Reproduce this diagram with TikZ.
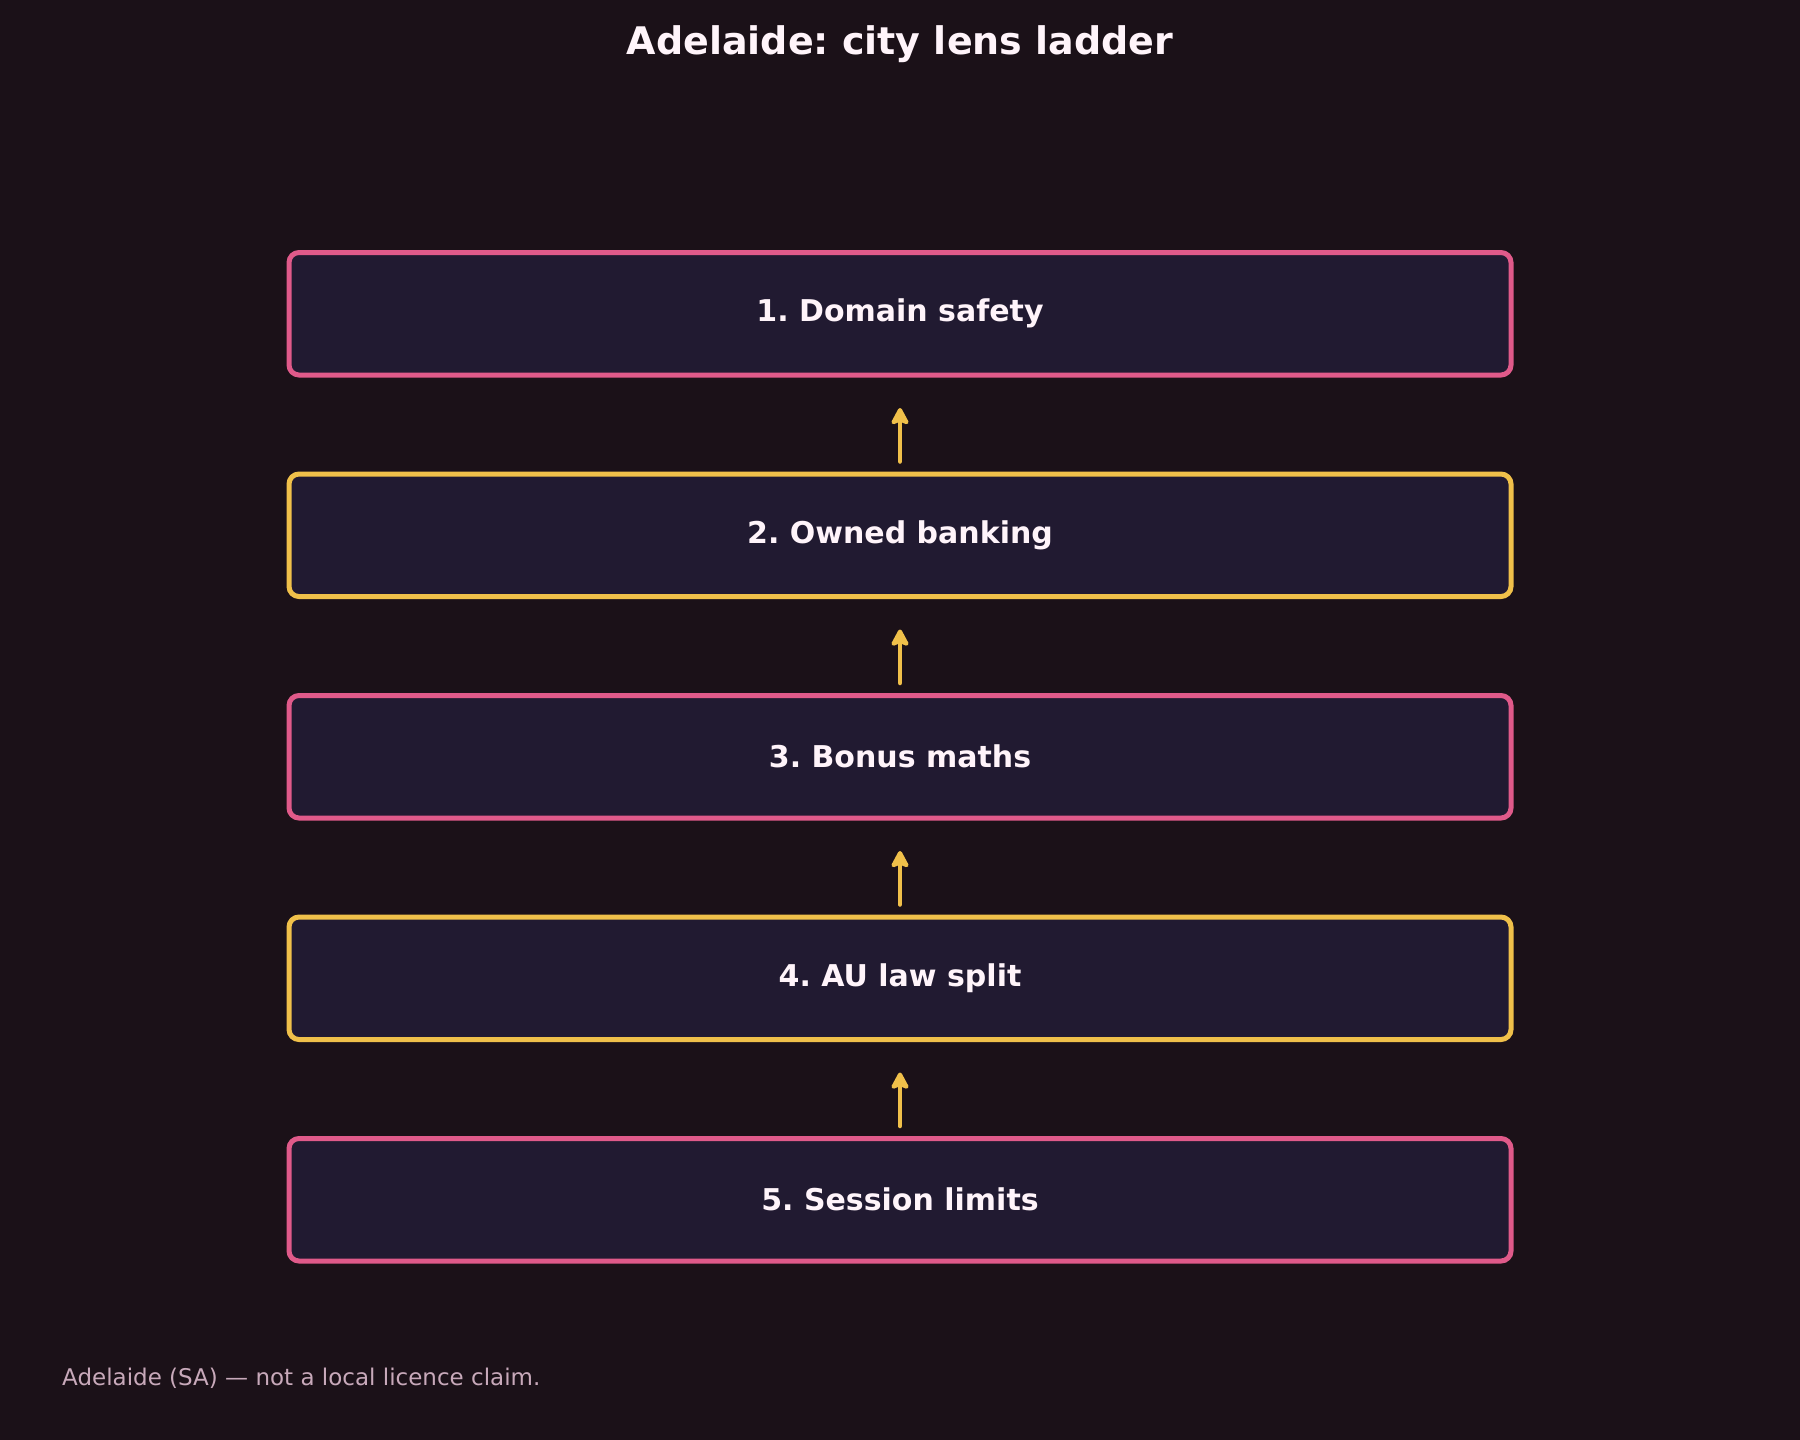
\documentclass[tikz,border=0pt]{standalone}
\usepackage{fontspec}
\setmainfont{DejaVu Sans}
\frenchspacing
\usetikzlibrary{positioning,arrows.meta}

\definecolor{bgdark}{HTML}{1B1118}
\definecolor{rungfill}{HTML}{211A31}
\definecolor{rungpink}{HTML}{E05A8A}
\definecolor{runggold}{HTML}{F0C04A}
\definecolor{inkwhite}{HTML}{FFF4FA}
\definecolor{notegrey}{HTML}{C8A9BA}

\tikzset{
  rung/.style={draw, line width=5pt, fill=rungfill, rounded corners=10pt,
    minimum width=1222pt, minimum height=122.5pt, inner sep=0pt,
    text=inkwhite, font=\fontsize{30}{36}\selectfont\bfseries},
  pinkrung/.style={rung, draw=rungpink},
  goldrung/.style={rung, draw=runggold},
  climb/.style={draw=runggold, line width=4.5pt, line cap=round,
    -{Stealth[length=20pt,width=21pt,inset=4pt,line join=round]}, shorten <=10pt, shorten >=30.5pt}
}

\begin{document}
\begin{tikzpicture}[x=1pt,y=-1pt]
    % Background
    \fill [bgdark] (0, 0) rectangle (1800, 1440);
    \useasboundingbox (0, 0) rectangle (1800, 1440);

    % Title
    \node [text=inkwhite, font=\fontsize{38}{46}\selectfont\bfseries] (title) at (900, 44) {Adelaide: city lens ladder};

    % Ladder rungs
    \node [pinkrung] (domain) at (900, 313.75) {1. Domain safety};
    \node [goldrung] (banking) at (900, 535.25) {2. Owned banking};
    \node [pinkrung] (bonus) at (900, 756.75) {3. Bonus maths};
    \node [goldrung] (law) at (900, 978.25) {4. AU law split};
    \node [pinkrung] (session) at (900, 1199.75) {5. Session limits};

    % Steps up
    \draw [climb] (banking.north) -- (domain.south);
    \draw [climb] (bonus.north) -- (banking.south);
    \draw [climb] (law.north) -- (bonus.south);
    \draw [climb] (session.north) -- (law.south);

    % Footnote
    \node [anchor=west, inner sep=0pt, text=notegrey, font=\fontsize{23}{27}\selectfont] (note) at (62, 1378) {Adelaide (SA) — not a local licence claim.};
\end{tikzpicture}
\end{document}
